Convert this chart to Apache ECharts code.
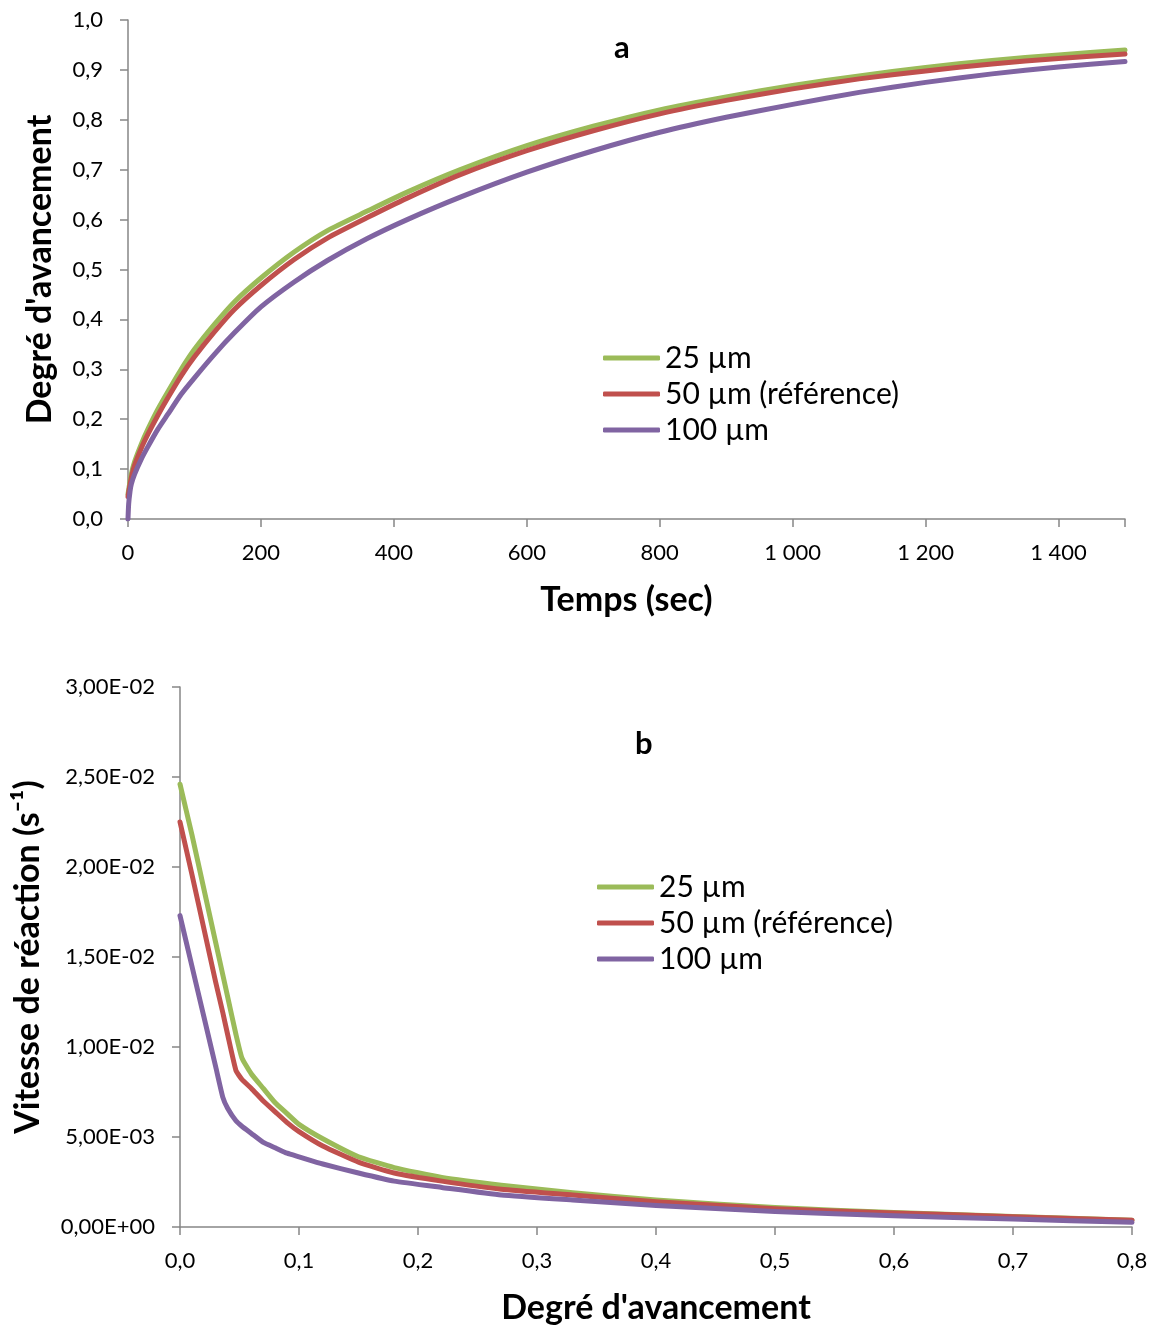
<!DOCTYPE html>
<html>
<head>
<meta charset="utf-8">
<script src="https://cdn.jsdelivr.net/npm/echarts@6/dist/echarts.min.js"></script>
<style>
html,body{margin:0;padding:0;background:#fff;}
#chart{width:1156px;height:1327px;}
</style>
</head>
<body>
<div id="chart"></div>
<script>
// ---- Chart a : degree of conversion vs time ----
const seriesNames = ['25 µm', '50 µm (référence)', '100 µm'];
const timeA = [0, 5, 10, 20, 30, 45, 60, 80, 100, 130, 160, 200, 250, 300, 360, 420, 500, 600, 700, 800, 900, 1000, 1100, 1200, 1300, 1400, 1500];
const alpha25 = [0.05, 0.09, 0.115, 0.15, 0.18, 0.22, 0.255, 0.30, 0.34, 0.39, 0.435, 0.483, 0.535, 0.578, 0.617, 0.655, 0.70, 0.748, 0.787, 0.82, 0.846, 0.869, 0.888, 0.905, 0.919, 0.93, 0.94];
const alpha50 = [0.045, 0.083, 0.108, 0.142, 0.17, 0.208, 0.243, 0.287, 0.325, 0.375, 0.42, 0.468, 0.52, 0.563, 0.604, 0.643, 0.69, 0.738, 0.778, 0.812, 0.839, 0.862, 0.882, 0.898, 0.912, 0.923, 0.932];
const timeA100 = [0, 1, 3, 5, 10, 20, 30, 45, 60, 80, 100, 130, 160, 200, 250, 300, 360, 420, 500, 600, 700, 800, 900, 1000, 1100, 1200, 1300, 1400, 1500];
const alpha100 = [0.0, 0.03, 0.055, 0.07, 0.09, 0.12, 0.145, 0.18, 0.21, 0.25, 0.283, 0.33, 0.373, 0.425, 0.475, 0.518, 0.562, 0.60, 0.645, 0.695, 0.738, 0.775, 0.805, 0.831, 0.855, 0.875, 0.892, 0.906, 0.917];

// ---- Chart b : reaction rate vs degree of conversion ----
const alphaB = [0, 0.01, 0.02, 0.03, 0.036, 0.04, 0.047, 0.052, 0.06, 0.07, 0.08, 0.09, 0.1, 0.12, 0.15, 0.18, 0.22, 0.27, 0.33, 0.4, 0.5, 0.6, 0.7, 0.8];
const rate25 = [0.0246, 0.0218, 0.0188, 0.0158, 0.0140, 0.0128, 0.0107, 0.0094, 0.0085, 0.0077, 0.0069, 0.0063, 0.0057, 0.0049, 0.0039, 0.0033, 0.00275, 0.00232, 0.0019, 0.0015, 0.00108, 0.0008, 0.00058, 0.00038];
const rate50 = [0.0225, 0.0196, 0.0166, 0.0136, 0.0119, 0.0107, 0.0087, 0.0082, 0.0077, 0.0070, 0.0064, 0.0058, 0.0053, 0.0045, 0.0036, 0.0030, 0.00255, 0.0021, 0.00178, 0.0014, 0.00102, 0.00078, 0.00057, 0.00037];
const rate100 = [0.0173, 0.0145, 0.0117, 0.0089, 0.0072, 0.0066, 0.0059, 0.0056, 0.0052, 0.0047, 0.0044, 0.0041, 0.0039, 0.0035, 0.0030, 0.00255, 0.0022, 0.00178, 0.0015, 0.0012, 0.00086, 0.00062, 0.00044, 0.00026];

const colors = ['#9BBB59', '#C0504D', '#8064A2'];
const FONT = 'Lato, "Open Sans", sans-serif';
const axisGray = '#868686';

function zip(xs, ys) { return xs.map((x, i) => [x, ys[i]]); }
function comma1(v) { return v.toFixed(1).replace('.', ','); }
function thousands(v) {
  if (v === 1500) return '';
  const s = String(Math.round(v));
  return s.length > 3 ? s.slice(0, s.length - 3) + ' ' + s.slice(-3) : s;
}
function sci(v) {
  if (v === 0) return '0,00E+00';
  let e = Math.floor(Math.log10(Math.abs(v)) + 1e-9);
  let m = v / Math.pow(10, e);
  if (Math.round(m * 100) / 100 >= 10) { m /= 10; e += 1; }
  const sign = e < 0 ? '-' : '+';
  const ea = Math.abs(e);
  return m.toFixed(2).replace('.', ',') + 'E' + sign + (ea < 10 ? '0' + ea : ea);
}

const labelStyle = { fontFamily: FONT, fontSize: 22, color: '#000' };
const nameStyle = { fontFamily: FONT, fontSize: 34, fontWeight: 'bold', color: '#000' };
const axisLine = { show: true, lineStyle: { color: axisGray, width: 1.5 } };
const axisTick = { show: true, inside: false, length: 8, lineStyle: { color: axisGray, width: 1.5 } };

const chart = echarts.init(document.getElementById('chart'), null, { renderer: 'canvas' });

const lineBase = (i, sm) => ({
  type: 'line',
  showSymbol: false,
  symbol: 'none',
  smooth: sm,
  lineStyle: { width: 5, color: colors[i], join: 'round', cap: 'round' },
  itemStyle: { color: colors[i] },
  emphasis: { disabled: true }
});

const legendText = { fontFamily: FONT, fontSize: 30, lineHeight: 32, color: '#000' };

const option = {
  animation: false,
  backgroundColor: '#fff',
  title: [
    { text: 'a', left: 609, top: 27, textStyle: { fontFamily: FONT, fontSize: 31, fontWeight: 'bold', color: '#000' } },
    { text: 'b', left: 630, top: 723, textStyle: { fontFamily: FONT, fontSize: 31, fontWeight: 'bold', color: '#000' } }
  ],
  legend: [
    {
      orient: 'vertical', left: 598, top: 337, itemWidth: 57, itemHeight: 5, itemGap: 4,
      icon: 'roundRect', data: seriesNames, textStyle: legendText
    },
    {
      orient: 'vertical', left: 592, top: 866, itemWidth: 57, itemHeight: 5, itemGap: 4,
      icon: 'roundRect', data: seriesNames, textStyle: legendText
    }
  ],
  grid: [
    { left: 128, right: 31, top: 20, height: 499, containLabel: false },
    { left: 180, right: 24, top: 687, height: 540, containLabel: false }
  ],
  xAxis: [
    {
      gridIndex: 0, type: 'value', min: 0, max: 1500, interval: 200,
      name: 'Temps (sec)', nameLocation: 'middle', nameGap: 64, nameTextStyle: nameStyle,
      axisLine, axisTick, splitLine: { show: false },
      axisLabel: { ...labelStyle, margin: 23, formatter: thousands }
    },
    {
      gridIndex: 1, type: 'value', min: 0, max: 0.8, interval: 0.1,
      name: "Degré d'avancement", nameLocation: 'middle', nameGap: 64, nameTextStyle: nameStyle,
      axisLine, axisTick, splitLine: { show: false },
      axisLabel: { ...labelStyle, margin: 23, formatter: comma1 }
    }
  ],
  yAxis: [
    {
      gridIndex: 0, type: 'value', min: 0, max: 1, interval: 0.1,
      name: "Degré d'avancement", nameLocation: 'middle', nameGap: 71, nameRotate: 90, nameTextStyle: nameStyle,
      axisLine, axisTick, splitLine: { show: false },
      axisLabel: { ...labelStyle, margin: 25, formatter: comma1 }
    },
    {
      gridIndex: 1, type: 'value', min: 0, max: 0.03, interval: 0.005,
      name: 'Vitesse de réaction (s⁻¹)', nameLocation: 'middle', nameGap: 135, nameRotate: 90, nameTextStyle: nameStyle,
      axisLine, axisTick, splitLine: { show: false },
      axisLabel: { ...labelStyle, margin: 25, formatter: sci }
    }
  ],
  series: [
    { ...lineBase(0, 0.2), name: seriesNames[0], xAxisIndex: 0, yAxisIndex: 0, data: zip(timeA, alpha25) },
    { ...lineBase(1, 0.2), name: seriesNames[1], xAxisIndex: 0, yAxisIndex: 0, data: zip(timeA, alpha50) },
    { ...lineBase(2, 0.2), name: seriesNames[2], xAxisIndex: 0, yAxisIndex: 0, data: zip(timeA100, alpha100) },
    { ...lineBase(0, 0.15), name: seriesNames[0], xAxisIndex: 1, yAxisIndex: 1, data: zip(alphaB, rate25) },
    { ...lineBase(1, 0.15), name: seriesNames[1], xAxisIndex: 1, yAxisIndex: 1, data: zip(alphaB, rate50) },
    { ...lineBase(2, 0.15), name: seriesNames[2], xAxisIndex: 1, yAxisIndex: 1, data: zip(alphaB, rate100) }
  ]
};
chart.setOption(option);
</script>
</body>
</html>
